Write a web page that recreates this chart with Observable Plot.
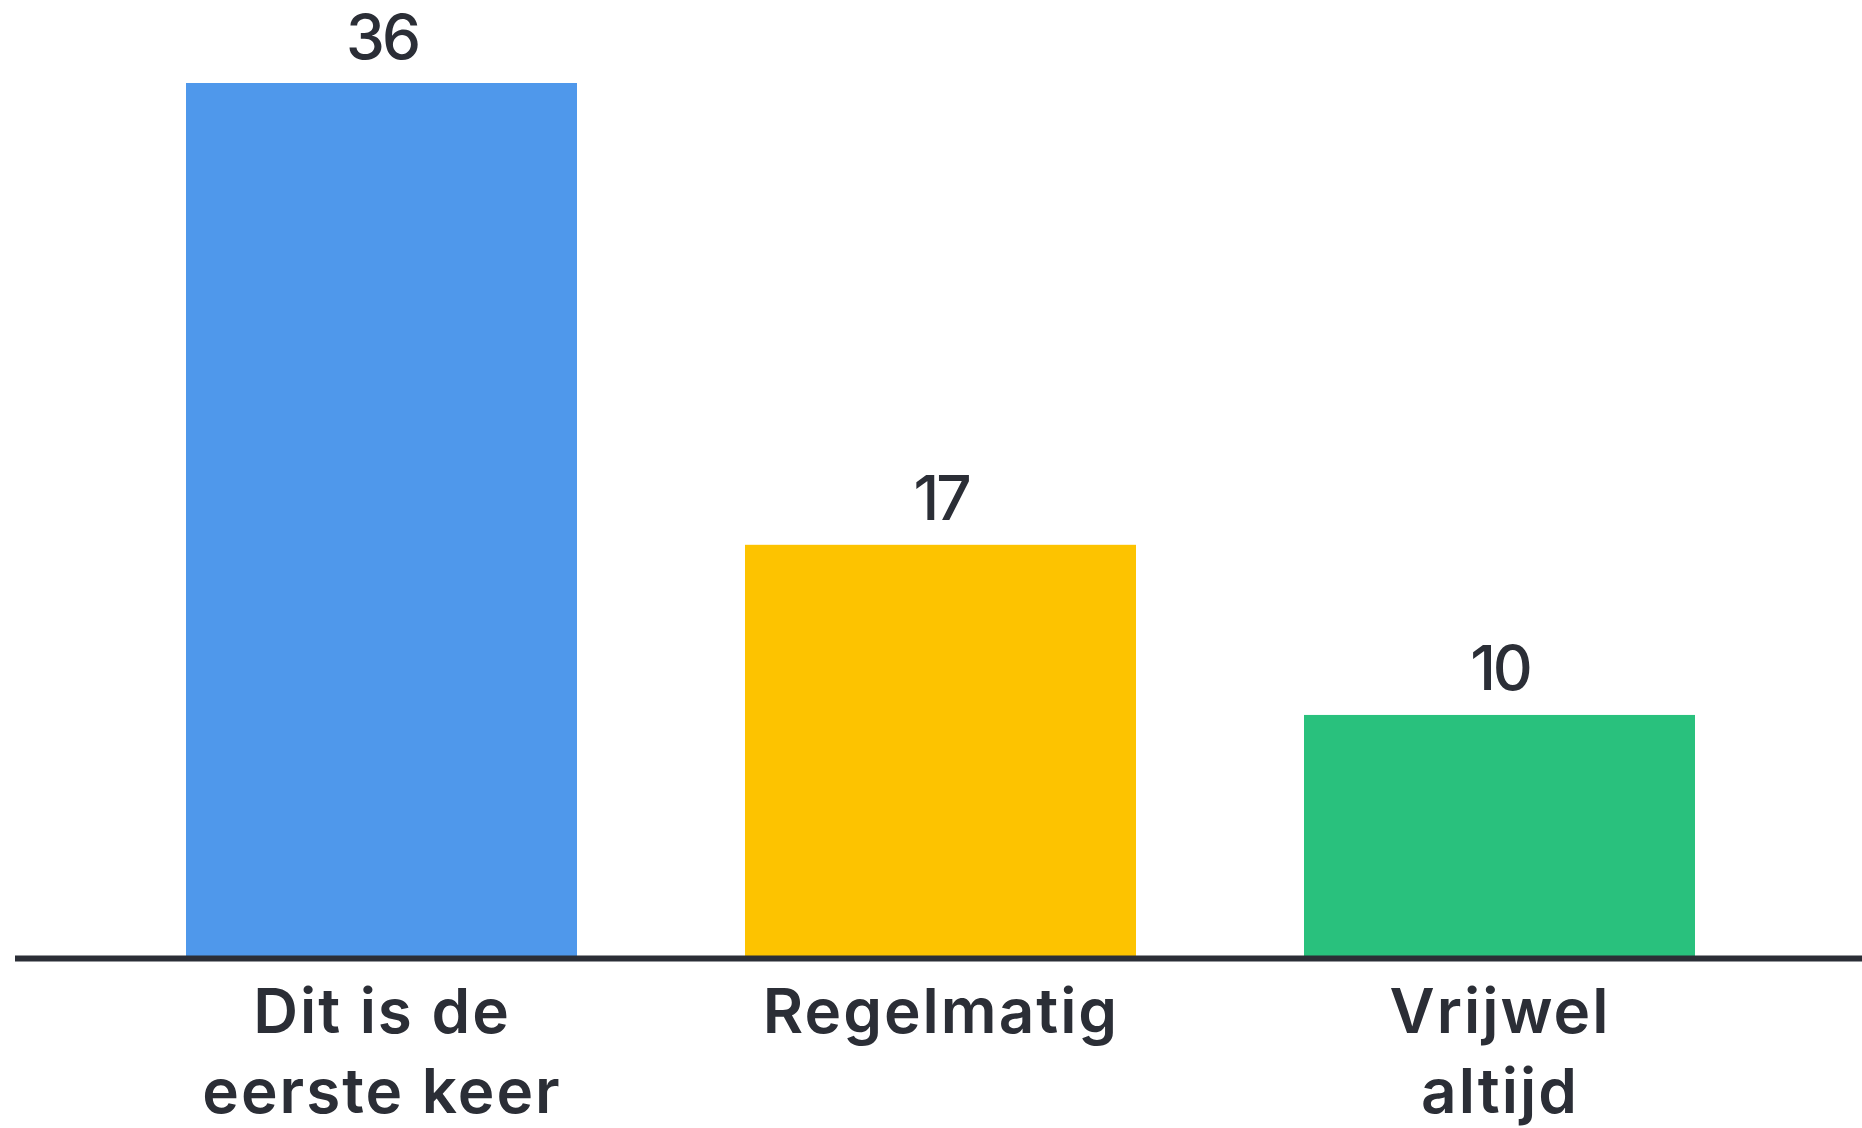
<!DOCTYPE html>
<html>
<head>
<meta charset="utf-8">
<script src="https://cdn.jsdelivr.net/npm/d3@7"></script>
<script src="https://cdn.jsdelivr.net/npm/@observablehq/plot@0.6"></script>
<style>
  html, body { margin: 0; padding: 0; background: #ffffff; }
  #chart { width: 1862px; height: 1128px; }
  #chart g[aria-label="x-axis tick label"] { letter-spacing: 2px; }
  #chart g[aria-label="text"] { letter-spacing: -3px; }
</style>
</head>
<body>
<div id="chart"></div>
<script>
const categories = ["Dit is de eerste keer", "Regelmatig", "Vrijwel altijd"];
const tickLabels = ["Dit is de\neerste keer", "Regelmatig", "Vrijwel\naltijd"];
const values = [36, 17, 10];
const colors = ["#4F98EB", "#FDC300", "#29C17D"];

const data = categories.map((c, i) => ({category: c, value: values[i]}));
const labelOf = new Map(categories.map((c, i) => [c, tickLabels[i]]));

const textColor = "#2B2E36";
const font = "Inter, 'Noto Sans', sans-serif";

const chart = Plot.plot({
  width: 1862,
  height: 1128,
  marginLeft: 15,
  marginRight: 0,
  marginTop: 0,
  marginBottom: 170,
  style: {fontFamily: font, background: "#ffffff"},
  x: {domain: categories, range: [102.5, 1779.5], paddingInner: 0.3, paddingOuter: 0.15, align: 0.5, label: null},
  y: {domain: [0, 36], range: [958, 83], axis: null},
  color: {domain: categories, range: colors},
  marks: [
    Plot.barY(data, {x: "category", y: "value", fill: "category"}),
    Plot.ruleY([0], {stroke: textColor, strokeWidth: 6}),
    Plot.text(data, {
      x: "category", y: "value", text: d => String(d.value),
      lineAnchor: "bottom", dy: -25, fontSize: 62, fontWeight: 500, fill: textColor
    }),
    Plot.axisX({
      tickSize: 0, tickPadding: 17, fontSize: 62, fontWeight: 600,
      lineHeight: 1.3, tickFormat: d => labelOf.get(d), fill: textColor, label: null
    })
  ]
});
document.getElementById("chart").appendChild(chart);
</script>
</body>
</html>
